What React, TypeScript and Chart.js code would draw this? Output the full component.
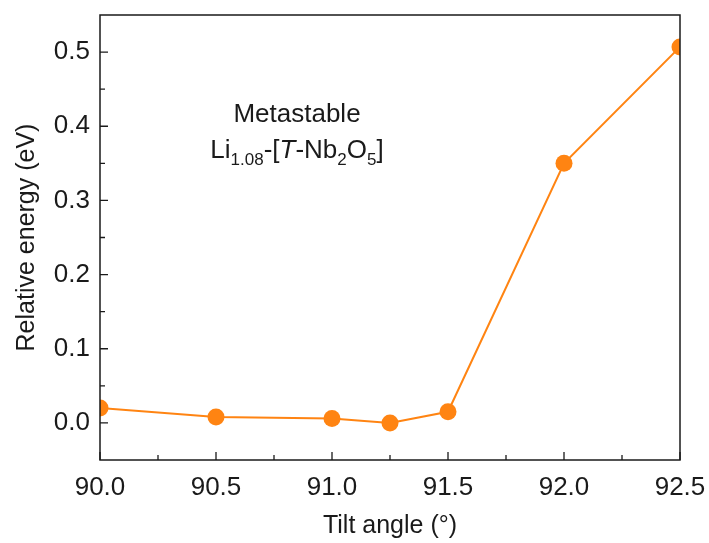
import React, { useEffect, useRef } from "react";
import { Chart, registerables } from "chart.js";

Chart.register(...registerables);

const tiltAngles = [90.0, 90.5, 91.0, 91.25, 91.5, 92.0, 92.5];
const relativeEnergy = [0.02, 0.008, 0.006, 0.0, 0.015, 0.35, 0.507];
const xTickValues = [90.0, 90.5, 91.0, 91.5, 92.0, 92.5];
const yTickValues = [0.0, 0.1, 0.2, 0.3, 0.4, 0.5];
const xMinorValues = [90.25, 90.75, 91.25, 91.75, 92.25];
const yMinorValues = [0.05, 0.15, 0.25, 0.35, 0.45];
const xTitle = "Tilt angle (°)";
const yTitle = "Relative energy (eV)";

const FONT = "'Liberation Sans', Arial, sans-serif";
const ORANGE = "#FF8412";
const INK = "#1a1a1a";

const framePlugin = {
  id: "frameTicks",
  afterDatasetsDraw(chart: any) {
    const { ctx, chartArea, scales } = chart;
    const { left, right, top, bottom } = chartArea;
    ctx.save();
    ctx.strokeStyle = INK;
    ctx.lineWidth = 1.5;
    ctx.strokeRect(left, top, right - left, bottom - top);
    ctx.lineWidth = 1.3;
    ctx.beginPath();
    for (const v of yTickValues) {
      const y = scales.y.getPixelForValue(v);
      ctx.moveTo(left, y);
      ctx.lineTo(left + 8, y);
    }
    for (const v of yMinorValues) {
      const y = scales.y.getPixelForValue(v);
      ctx.moveTo(left, y);
      ctx.lineTo(left + 5, y);
    }
    for (const v of xTickValues) {
      const x = scales.x.getPixelForValue(v);
      ctx.moveTo(x, bottom);
      ctx.lineTo(x, bottom - 8);
    }
    for (const v of xMinorValues) {
      const x = scales.x.getPixelForValue(v);
      ctx.moveTo(x, bottom);
      ctx.lineTo(x, bottom - 5);
    }
    ctx.stroke();

    // axis titles
    ctx.fillStyle = INK;
    ctx.font = `25px ${FONT}`;
    ctx.textAlign = "center";
    ctx.textBaseline = "middle";
    ctx.fillText(xTitle, (left + right) / 2, 526);
    ctx.save();
    ctx.translate(27, (top + bottom) / 2);
    ctx.rotate(-Math.PI / 2);
    ctx.fillText(yTitle, 0, 0);
    ctx.restore();

    // annotation
    ctx.textBaseline = "alphabetic";
    const cx = 297;
    ctx.font = `26px ${FONT}`;
    ctx.textAlign = "center";
    ctx.fillText("Metastable", cx, 122);

    const parts: { t: string; sub?: boolean; italic?: boolean }[] = [
      { t: "Li" },
      { t: "1.08", sub: true },
      { t: "-[" },
      { t: "T", italic: true },
      { t: "-Nb" },
      { t: "2", sub: true },
      { t: "O" },
      { t: "5", sub: true },
      { t: "]" },
    ];
    const fontFor = (p: any) =>
      `${p.italic ? "italic " : ""}${p.sub ? 17 : 26}px ${FONT}`;
    let total = 0;
    for (const p of parts) {
      ctx.font = fontFor(p);
      total += ctx.measureText(p.t).width;
    }
    let x = cx - total / 2;
    ctx.textAlign = "left";
    const baseY = 158;
    for (const p of parts) {
      ctx.font = fontFor(p);
      ctx.fillText(p.t, x, p.sub ? baseY + 7 : baseY);
      x += ctx.measureText(p.t).width;
    }
    ctx.restore();
  },
};

export default function App() {
  const ref = useRef<HTMLCanvasElement>(null);
  useEffect(() => {
    document.body.style.margin = "0";
    const chart = new Chart(ref.current!, {
      type: "line",
      data: {
        datasets: [
          {
            data: tiltAngles.map((x, i) => ({ x, y: relativeEnergy[i] })),
            borderColor: ORANGE,
            backgroundColor: ORANGE,
            pointBackgroundColor: ORANGE,
            pointBorderColor: ORANGE,
            borderWidth: 2,
            pointRadius: 8.5,
            pointBorderWidth: 0,
            tension: 0,
            clip: 0,
          } as any,
        ],
      },
      options: {
        animation: false,
        responsive: false,
        maintainAspectRatio: false,
        layout: { padding: { left: 0, right: 29, top: 15, bottom: 0 } },
        plugins: { legend: { display: false }, tooltip: { enabled: false } },
        scales: {
          x: {
            type: "linear",
            min: 90,
            max: 92.5,
            afterBuildTicks: (s: any) => {
              s.ticks = xTickValues.map((v) => ({ value: v }));
            },
            afterFit: (s: any) => {
              s.height = 83;
              s.paddingLeft = 0;
              s.paddingRight = 0;
              s.paddingTop = 0;
              s.paddingBottom = 0;
            },
            grid: { display: false, drawTicks: false },
            border: { display: false },
            ticks: {
              padding: 12,
              color: INK,
              font: { family: FONT, size: 26 },
              maxRotation: 0,
              autoSkip: false,
              callback: (v: any) => Number(v).toFixed(1),
            },
          },
          y: {
            type: "linear",
            min: -0.05,
            max: 0.55,
            afterBuildTicks: (s: any) => {
              s.ticks = yTickValues.map((v) => ({ value: v }));
            },
            afterFit: (s: any) => {
              s.width = 100;
              s.paddingLeft = 0;
              s.paddingRight = 0;
              s.paddingTop = 0;
              s.paddingBottom = 0;
            },
            grid: { display: false, drawTicks: false },
            border: { display: false },
            ticks: {
              padding: 10,
              color: INK,
              font: { family: FONT, size: 26 },
              autoSkip: false,
              callback: (v: any) => Number(v).toFixed(1),
            },
          },
        },
      },
      plugins: [framePlugin],
    });
    return () => chart.destroy();
  }, []);
  return (
    <div style={{ width: 709, height: 543, background: "#fff" }}>
      <canvas ref={ref} width={709} height={543} style={{ display: "block" }} />
    </div>
  );
}
